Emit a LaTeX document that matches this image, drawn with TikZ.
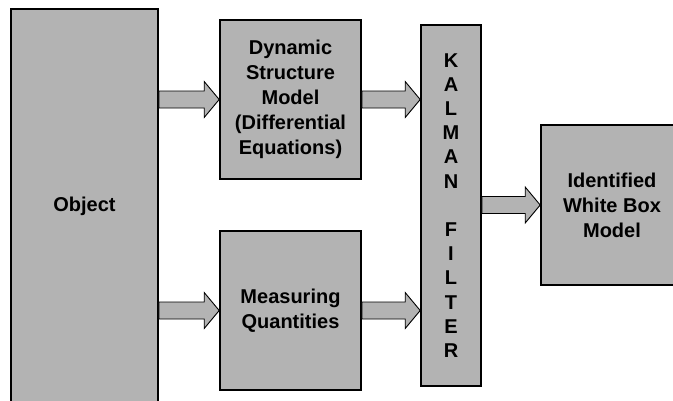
\documentclass[tikz,border=0pt]{standalone}
\usepackage{fontspec}
\setmainfont{Liberation Sans}
\usetikzlibrary{calc}
\definecolor{boxgray}{RGB}{179,179,179}
\tikzset{
  blockbox/.style={draw=black, fill=boxgray, line width=1.6pt, rectangle, inner sep=0pt,
    align=center, font=\bfseries\fontsize{20}{25}\selectfont},
  fatarrow/.style={draw=black, fill=boxgray, line width=0.9pt, line join=miter},
}
\newcommand{\fatarr}[3]{%
  \draw[fatarrow] let \p1=(#1), \p2=(#2), \p3=(#3) in
    (\x1,\y3-8.5pt) -- (\x2-15pt,\y3-8.5pt) -- (\x2-15pt,\y3-18pt) -- (\x2,\y3)
    -- (\x2-15pt,\y3+18pt) -- (\x2-15pt,\y3+8.5pt) -- (\x1,\y3+8.5pt) -- cycle;}
\begin{document}
\begin{tikzpicture}[x=1pt,y=-1pt]
\useasboundingbox (0,0) rectangle (673,400);
\node[blockbox, minimum width=147pt, minimum height=394pt] (obj) at (84.5,206) {Object};
\node[blockbox, minimum width=141pt, minimum height=159pt] (dyn) at (290.5,99.5)
  {Dynamic\\Structure\\Model\\(Differential\\Equations)};
\node[blockbox, minimum width=141pt, minimum height=159pt] (meas) at (290.5,310.5)
  {Measuring\\Quantities};
\node[blockbox, minimum width=60pt, minimum height=361pt,
  font=\bfseries\fontsize{20}{24.2}\selectfont] (kal) at (451,205.5)
  {K\\A\\L\\M\\A\\N\\[24.2pt]F\\I\\L\\T\\E\\R};
\node[blockbox, minimum width=142pt, minimum height=160pt] (wbm) at (612,205)
  {Identified\\White Box\\Model};
\fatarr{obj.east}{dyn.west}{dyn.west}
\fatarr{obj.east}{meas.west}{meas.west}
\fatarr{dyn.east}{kal.west}{dyn.east}
\fatarr{meas.east}{kal.west}{meas.east}
\fatarr{kal.east}{wbm.west}{wbm.west}
\end{tikzpicture}
\end{document}
